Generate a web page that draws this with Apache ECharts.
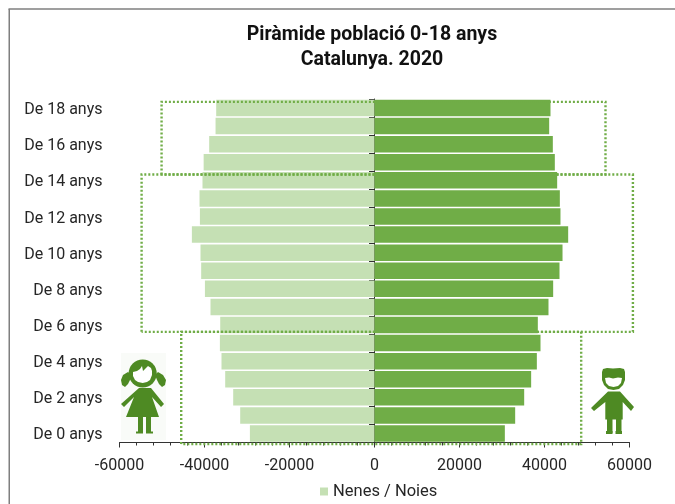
<!DOCTYPE html>
<html><head><meta charset="utf-8">
<style>html,body{margin:0;padding:0;background:#fff}#c{width:675px;height:504px}</style>
<script src="https://cdn.jsdelivr.net/npm/echarts@6/dist/echarts.min.js"></script>
</head><body><div id="c"></div>
<script>
const ages = [0,1,2,3,4,5,6,7,8,9,10,11,12,13,14,15,16,17,18];
const categories = ages.map(a => 'De ' + a + ' anys');
const nenes = [29320,31600,33250,35130,36000,36380,36300,38590,39900,40780,40940,42970,41080,41170,40470,40200,38900,37400,37250];
const nois = [30670,33100,35220,36860,38200,39060,38430,40940,42040,43530,44240,45570,43760,43610,42980,42430,41960,41100,41410];
const xTicks = {min:-60000,max:60000,step:20000};
// dotted outlines: [x, position along the age scale]
const band0 = [[-45480,-0.08],[-45480,6.12],[48630,6.12],[48630,-0.08],[-45480,-0.08]];
const band1 = [[-54800,6.12],[-54800,14.82],[60800,14.82],[60800,6.12],[-54800,6.12]];
const band2 = [[-50100,14.82],[-50100,18.84],[54350,18.84],[54350,14.82],[-50100,14.82]];
const title = ['Piràmide població 0-18 anys','Catalunya. 2020'];
const legendLabel = 'Nenes / Noies';

const FONT='Roboto', TXT='#262626', LIGHT='#c5e0b4', DARK='#70ad47', ICON='#4e8a23', FRAME='#7f7f7f';
const chart = echarts.init(document.getElementById('c'),null,{renderer:'canvas'});
const dotted = d => ({type:'custom',data:[[d[0][0],d[0][1]]],xAxisIndex:0,yAxisIndex:2,silent:true,clip:false,z:5,
  legendHoverLink:false,
  renderItem:(params,api)=>({type:'polyline',shape:{points:d.map(p=>api.coord(p))},
    style:{fill:null,stroke:DARK,lineWidth:2.4,lineDash:[2,2]},silent:true})});
const s={fill:ICON}, w={fill:'#fff'};
const poly=(points,style)=>({type:'polygon',shape:{points},style,silent:true});
const girl=[
 {type:'rect',shape:{x:121,y:353,width:45,height:87},style:{fill:'#f9fbf8'},silent:true},
 poly([[128,372],[123,375],[121,380],[122,385],[125,387],[128,384],[130,380],[132,375]],s),
 poly([[158,372],[163,375],[166,380],[165,385],[162,387],[159,384],[157,380],[155,375]],s),
 {type:'circle',shape:{cx:142.7,cy:373.5,r:14},style:s,silent:true},
 poly([[133,372],[137,371],[140,369],[142,366],[143,371],[146,368],[148,366],[151,368],[152,371],[152,375],[150,380],[147,382],[142.7,383],[138,382],[135,380],[133,376]],w),
 poly([[139,388],[151,388],[164,404],[161,407],[152,397],[159,417],[126,417],[134,397],[124,407],[121,404]],s),
 {type:'rect',shape:{x:138,y:416,width:5,height:17},style:s,silent:true},{type:'rect',shape:{x:146,y:416,width:5,height:17},style:s,silent:true},
 {type:'rect',shape:{x:136,y:431.5,width:7,height:2},style:s,silent:true},{type:'rect',shape:{x:146,y:431.5,width:7,height:2},style:s,silent:true}
];
const boy=[
 poly([[602,372],[603,369],[607,368],[613,368.5],[620,368],[624,369],[625,372],[625,380],[623,385],[619,389],[613.5,390],[608,389],[604,385],[602,380]],s),
 poly([[605,378],[609,377.5],[613,378.5],[618,377.5],[622,378],[621,383],[618,386],[613.5,387],[609,386],[606,383]],w),
 poly([[608,391.5],[620,391.5],[634,407],[631,411],[622.7,402],[622.7,419.5],[605.3,419.5],[605.3,402],[594,411],[591,408]],s),
 {type:'rect',shape:{x:607,y:419,width:5.5,height:14},style:s,silent:true},{type:'rect',shape:{x:616,y:419,width:5.5,height:14},style:s,silent:true},
 {type:'rect',shape:{x:606,y:431,width:6.5,height:3},style:s,silent:true},{type:'rect',shape:{x:615.5,y:431,width:6.5,height:3},style:s,silent:true}
];
chart.setOption({
 animation:false,
 backgroundColor:'#fff',
 textStyle:{fontFamily:FONT},
 title:{text:title.join('\n'),left:367,top:18,textAlign:'center',
   textStyle:{fontFamily:FONT,fontWeight:'bold',fontSize:19.5,lineHeight:25,color:'#111'}},
 grid:{left:119.5,top:99,width:510,height:343.5},
 legend:{data:[legendLabel],left:315,top:478,icon:'rect',itemWidth:8,itemHeight:8,itemGap:3,
   textStyle:{fontFamily:FONT,fontSize:16.5,color:TXT,padding:[1,0,0,0]},selectedMode:false},
 xAxis:{type:'value',min:xTicks.min,max:xTicks.max,interval:xTicks.step,
   splitLine:{show:false},
   axisLine:{show:true,onZero:false,lineStyle:{color:'#333',width:1}},
   axisTick:{show:true,length:5,lineStyle:{color:'#333'}},
   minorTick:{show:true,splitNumber:5,length:3,lineStyle:{color:'#333'}},
   minorSplitLine:{show:false},
   axisLabel:{fontFamily:FONT,fontSize:16,color:TXT,margin:15,formatter:v=>String(v)}},
 yAxis:[
  {type:'category',data:categories,axisLine:{show:true,onZero:true,lineStyle:{color:'#333',width:1}},
   axisTick:{show:true,length:5.5,inside:false,lineStyle:{color:'#333'}},axisLabel:{show:false},splitLine:{show:false}},
  {type:'category',data:categories,position:'left',axisLine:{show:false,onZero:false},axisTick:{show:false},
   axisLabel:{margin:17,interval:1,formatter:v=>'{a|'+v+'}',
     rich:{a:{fontFamily:FONT,fontSize:16,color:TXT,padding:[4,0,0,0]}}},splitLine:{show:false}},
  {type:'value',min:0,max:19,show:false,splitLine:{show:false}}
 ],
 series:[
  {name:legendLabel,type:'bar',data:nenes.map(v=>-v),yAxisIndex:0,barWidth:16.5,barGap:'-100%',itemStyle:{color:LIGHT},silent:true,z:2},
  {name:'Nois',type:'bar',data:nois,yAxisIndex:0,barWidth:16.5,itemStyle:{color:DARK},silent:true,z:2},
  dotted(band0),dotted(band1),dotted(band2)
 ],
 graphic:[
  {type:'line',shape:{x1:9.25,y1:9,x2:9.25,y2:504},style:{stroke:FRAME,lineWidth:1.5},silent:true},
  {type:'line',shape:{x1:8.5,y1:9,x2:675,y2:9},style:{stroke:FRAME,lineWidth:1.5},silent:true},
  ...girl,...boy
 ]
});
</script></body></html>
